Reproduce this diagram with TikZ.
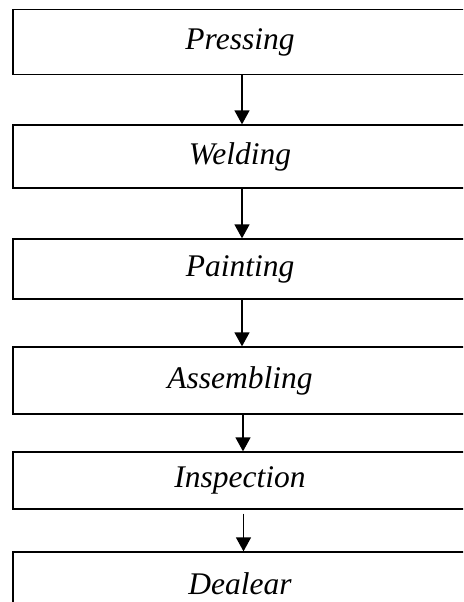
\documentclass[tikz,border=0pt]{standalone}
\usepackage{fontspec}
\setmainfont{Liberation Serif}
\usetikzlibrary{arrows.meta}
\begin{document}
\begin{tikzpicture}[x=1pt,y=1pt,
  box/.style={draw=black, line width=1.3pt, rectangle, minimum width=470pt, inner sep=0pt,
    font=\fontsize{31.5}{36}\selectfont\itshape,
    execute at begin node={\hspace*{-16pt}}},
  arr/.style={line width=1.3pt, -{Triangle[width=15pt,length=14pt]}}]
\useasboundingbox (0,0) rectangle (463,-602);
\clip (0,0) rectangle (463,-602);
\node[box, minimum height=65pt] (p) at (248,-42) {Pressing};
\node[box, minimum height=63pt] (w) at (248,-156.5) {Welding};
\node[box, minimum height=60pt] (pa) at (248,-269) {Painting};
\node[box, minimum height=67pt] (a) at (248,-380.5) {Assembling};
\node[box, minimum height=57pt] (i) at (248,-480.5) {Inspection};
\node[box, minimum height=64pt] (d) at (248,-584) {Dealear};
\draw[arr] ([xshift=-6pt]p.south) -- ([xshift=-6pt]w.north);
\draw[arr] ([xshift=-6pt]w.south) -- ([xshift=-6pt]pa.north);
\draw[arr] ([xshift=-6pt]pa.south) -- ([xshift=-6pt]a.north);
\draw[arr] ([xshift=-5pt]a.south) -- ([xshift=-5pt]i.north);
\draw[arr] ([xshift=-4.5pt,yshift=-4pt]i.south) -- ([xshift=-4.5pt]d.north);
\end{tikzpicture}
\end{document}
